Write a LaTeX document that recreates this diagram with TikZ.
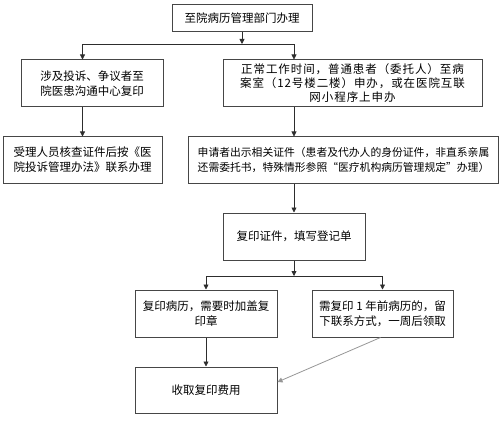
\documentclass[tikz,border=0pt]{standalone}
\usepackage{fontspec}
\usepackage{xcolor}
\setmainfont{Noto Sans CJK SC}
\usetikzlibrary{arrows.meta,calc}
\definecolor{boxline}{RGB}{70,70,70}
\definecolor{flowline}{RGB}{45,45,45}
\definecolor{lateline}{RGB}{150,150,150}

\begin{document}
\begin{tikzpicture}[x=1pt, y=-1pt, every node/.style={font=\fontsize{11.5}{15}\selectfont}]
  \tikzset{
      stage/.style={draw=boxline, line width=1pt, align=center, inner sep=2pt, minimum height=47pt},
      flow/.style={draw=flowline, line width=0.8pt, -{Triangle[length=5pt,width=5pt]}}
  }
  \useasboundingbox (0,0) rectangle (500,422);

  % registration desk
  \node[stage, minimum width=140pt, minimum height=27pt] (b1) at (242, 18.5) {至院病历管理部门办理};

  \node[stage, minimum width=142pt] (b2l) at (92, 83.5)  {涉及投诉、争议者至\\院医患沟通中心复印};
  \node[stage, minimum width=259pt, font=\fontsize{11.5}{14}\selectfont\addfontfeature{LetterSpace=8}] (b2r) at (352.5, 83.5) {正常工作时间，普通患者（委托人）至病\\案室（12号楼二楼）申办，或在医院互联\\网小程序上申办};

  \node[stage, minimum width=159pt, minimum height=46pt] (b3l) at (82.5, 160) {受理人员核查证件后按《医\\院投诉管理办法》联系办理};
  \node[stage, minimum width=310pt, minimum height=46pt, font=\fontsize{10.8}{15}\selectfont] (b3r) at (343.5, 160) {申请者出示相关证件（患者及代办人的身份证件，非直系亲属\\还需委托书，特殊情形参照“医疗机构病历管理规定”办理）};

  \node[stage, minimum width=142pt] (b4) at (294, 236.5) {复印证件，填写登记单};

  \node[stage, minimum width=142pt] (b5l) at (206, 313.5)   {复印病历，需要时加盖复\\印章};
  \node[stage, minimum width=141pt] (b5r) at (382.5, 313.5) {需复印 1 年前病历的，留\\下联系方式，一周后领取};

  \node[stage, minimum width=142pt, minimum height=46pt] (b6) at (206, 390) {收取复印费用};

  % connectors
  \coordinate (s1) at (242, 44);
  \coordinate (s2) at (294, 276);
  \draw[flow] (b1.south) -- (s1);
  \draw[flow] (s1) -| (b2l.north -| b3l.north);
  \draw[flow] (s1) -| (b2r.north -| b4.north);
  \draw[flow] (b2l.south -| b3l.north) -- (b3l.north);
  \draw[flow] (b2r.south -| b4.north) -- (b3r.north -| b4.north);
  \draw[flow] (b3r.south -| b4.north) -- (b4.north);
  \draw[flow] (b4.south) -- (s2);
  \draw[flow] (s2) -| (b5l.north);
  \draw[flow] (s2) -| (b5r.north);
  \draw[flow] (b5l.south) -- (b6.north);
  \draw[flow, draw=lateline] ([xshift=-2pt]b5r.south) -- ([yshift=8pt]b6.east);
\end{tikzpicture}
\end{document}
